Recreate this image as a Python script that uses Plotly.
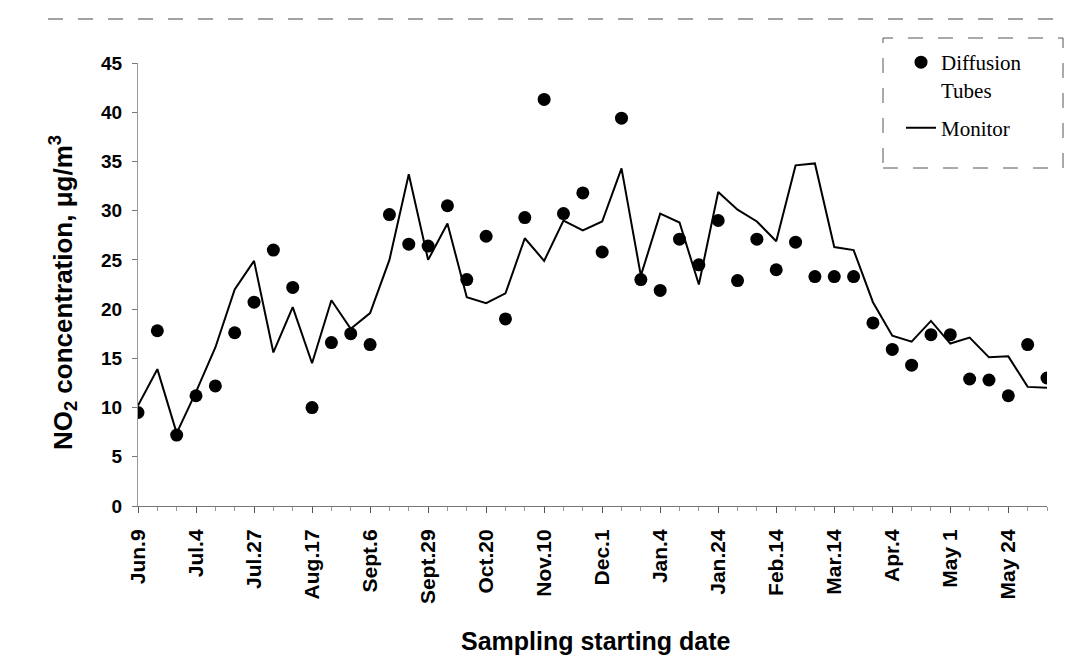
import plotly.graph_objects as go

# ---- data ----
tick_labels = ["Jun.9", "Jul.4", "Jul.27", "Aug.17", "Sept.6", "Sept.29", "Oct.20", "Nov.10",
               "Dec.1", "Jan.4", "Jan.24", "Feb.14", "Mar.14", "Apr.4", "May 1", "May 24"]
tick_positions = [0, 3, 6, 9, 12, 15, 18, 21, 24, 27, 30, 33, 36, 39, 42, 45]
sample_index = list(range(48))

diffusion_tubes = [9.5, 17.8, 7.2, 11.2, 12.2, 17.6, 20.7, 26.0, 22.2, 10.0,
                   16.6, 17.5, 16.4, 29.6, 26.6, 26.4, 30.5, 23.0, 27.4, 19.0,
                   29.3, 41.3, 29.7, 31.8, 25.8, 39.4, 23.0, 21.9, 27.1, 24.5,
                   29.0, 22.9, 27.1, 24.0, 26.8, 23.3, 23.3, 23.3, 18.6, 15.9,
                   14.3, 17.4, 17.4, 12.9, 12.8, 11.2, 16.4, 13.0]

monitor = [10.2, 13.9, 7.4, 11.6, 16.1, 22.0, 24.9, 15.6, 20.2, 14.5,
           20.9, 18.0, 19.6, 25.0, 33.7, 25.0, 28.7, 21.2, 20.6, 21.6,
           27.2, 24.9, 29.0, 28.0, 28.9, 34.3, 23.4, 29.7, 28.8, 22.5,
           31.9, 30.1, 28.9, 26.9, 34.6, 34.8, 26.3, 26.0, 20.7, 17.3,
           16.7, 18.8, 16.5, 17.1, 15.1, 15.2, 12.1, 12.0]

W, H = 1073, 660
L, R, T, B = 130, 34, 55, 162
PW, PH = W - L - R, H - T - B


def px_x(px):
    return (px - L) / PW


def px_y(py):
    return (H - B - py) / PH


fig = go.Figure()
fig.add_trace(go.Scatter(
    x=sample_index, y=diffusion_tubes, mode="markers",
    name="Diffusion<br>Tubes", legendgroup="a",
    marker=dict(color="black", size=13, symbol="circle"),
))
fig.add_trace(go.Scatter(
    x=sample_index, y=monitor, mode="lines",
    name="Monitor", legendgroup="b",
    line=dict(color="black", width=2),
))

fig.update_layout(
    width=W, height=H,
    margin=dict(l=L, r=R, t=T, b=B, autoexpand=False),
    paper_bgcolor="white", plot_bgcolor="white",
    showlegend=True,
    legend=dict(
        x=px_x(893), y=px_y(34), xanchor="left", yanchor="top",
        bgcolor="rgba(0,0,0,0)", borderwidth=0,
        font=dict(family="Liberation Serif", size=21, color="black"),
        valign="top", tracegroupgap=8,
    ),
    xaxis=dict(
        range=[0, 47], showgrid=False, zeroline=False,
        showline=True, linecolor="#777", linewidth=1,
        tickmode="array", tickvals=tick_positions, ticktext=tick_labels,
        tickangle=-90, ticks="outside", ticklen=6, tickcolor="#555",
        ticklabelstandoff=8,
        tickfont=dict(family="Liberation Sans", size=21, color="black", weight="bold"),
        minor=dict(dtick=1, tick0=0, ticks="outside", ticklen=4, tickcolor="#999"),
    ),
    yaxis=dict(
        range=[0, 45], showgrid=False, zeroline=False,
        showline=True, linecolor="#999", linewidth=1,
        tickmode="linear", tick0=0, dtick=5,
        ticks="outside", ticklen=5, tickcolor="#777",
        ticklabelstandoff=6,
        tickfont=dict(family="Liberation Sans", size=19, color="black", weight="bold"),
    ),
    annotations=[
        dict(text="NO<sub>2</sub> concentration, μg/m<sup>3</sup>", textangle=-90,
             x=px_x(55), y=px_y(285), xref="paper", yref="paper",
             xanchor="center", yanchor="middle", showarrow=False,
             font=dict(family="Liberation Sans", size=26, color="black", weight="bold")),
        dict(text="Sampling starting date",
             x=px_x(588), y=px_y(633), xref="paper", yref="paper",
             xanchor="center", yanchor="middle", showarrow=False,
             font=dict(family="Liberation Sans", size=25, color="black", weight="bold")),
    ],
    shapes=[
        dict(type="rect", xref="paper", yref="paper",
             x0=px_x(875), x1=px_x(1055), y0=px_y(160), y1=px_y(30),
             line=dict(color="#555", width=1, dash="longdash")),
        dict(type="line", xref="paper", yref="paper",
             x0=px_x(40), x1=px_x(1073), y0=px_y(11), y1=px_y(11),
             line=dict(color="#444", width=1, dash="longdash")),
    ],
)

fig.write_html("out.html")
